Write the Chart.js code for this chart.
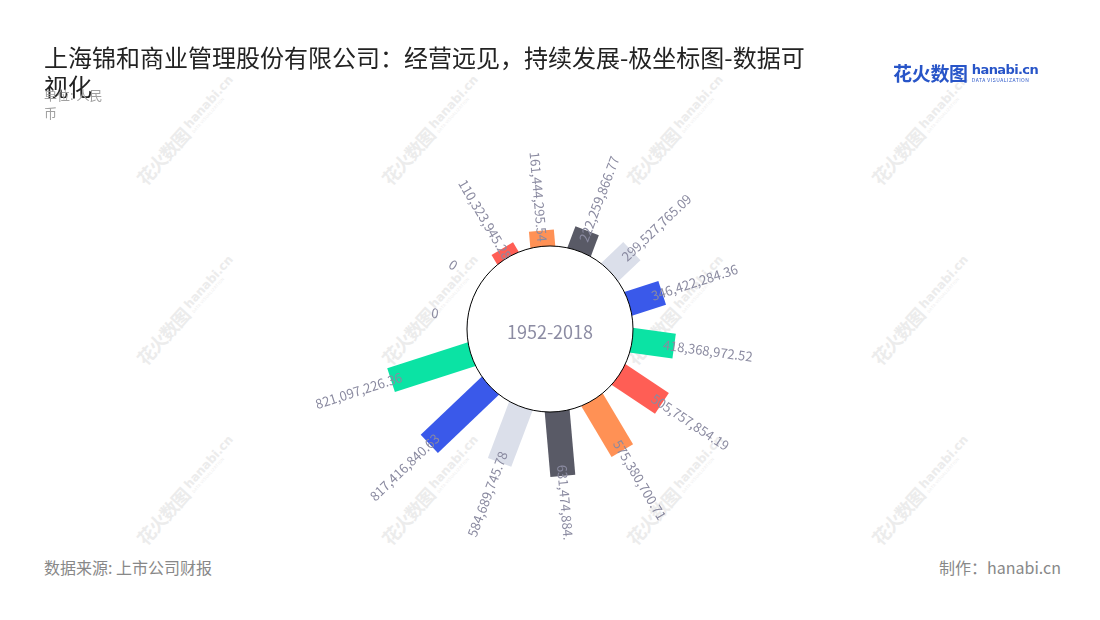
<!DOCTYPE html>
<html lang="zh">
<head>
<meta charset="utf-8">
<title>上海锦和商业管理股份有限公司：经营远见，持续发展-极坐标图-数据可视化</title>
<script src="https://cdn.jsdelivr.net/npm/chart.js@4.4.1/dist/chart.umd.min.js"></script>
<style>
  html, body { margin: 0; padding: 0; background: #fff; }
  body {
    width: 1100px; height: 620px; position: relative; overflow: hidden;
    font-family: "Noto Sans CJK SC", "Noto Sans", sans-serif;
  }
  #marks { position: absolute; left: 0; top: 0; width: 1100px; height: 620px; }
  .mark {
    position: absolute; white-space: nowrap; color: #ececec;
    transform: translate(-50%, -50%) rotate(-48deg);
    display: flex; align-items: center;
  }
  .mark .cn { font-size: 18px; font-weight: bold; letter-spacing: -1px; }
  .mark .en { margin-left: 4px; line-height: 1; }
  .mark .en b { display: block; font-family: "DejaVu Sans", sans-serif; font-size: 12px; }
  .mark .en i { display: block; font-style: normal; font-size: 4px; letter-spacing: 0.4px; }
  #chart { position: absolute; left: 0; top: 0; }
  .title {
    position: absolute; left: 44px; top: 42px; width: 772px;
    font-size: 24px; line-height: 29px; color: #222;
  }
  .unit {
    position: absolute; left: 44px; top: 86px; width: 64px;
    font-size: 13px; line-height: 18px; color: #a0a0a0;
  }
  .source { position: absolute; left: 44px; top: 557px; font-size: 16px; line-height: 20px; color: #888; }
  .maker { position: absolute; right: 39px; top: 557px; font-size: 16px; line-height: 20px; color: #888; }
  .logo { position: absolute; left: 893px; top: 59px; display: flex; align-items: center; color: #2855c8; }
  .logo .cn { font-size: 19px; font-weight: bold; letter-spacing: -0.3px; }
  .logo .en { margin-left: 4px; line-height: 1; }
  .logo .en b { display: block; font-family: "DejaVu Sans", sans-serif; font-size: 13px; letter-spacing: -0.6px; }
  .logo .en i { display: block; font-style: normal; font-size: 5px; letter-spacing: 0.5px; margin-top: 1px; }
</style>
</head>
<body>
<div id="marks"></div>
<canvas id="chart" width="1100" height="540"></canvas>
<div class="title">上海锦和商业管理股份有限公司：经营远见，持续发展-极坐标图-数据可视化</div>
<div class="unit">单位: 人民币</div>
<div class="logo"><span class="cn">花火数图</span><span class="en"><b>hanabi.cn</b><i>DATA VISUALIZATION</i></span></div>
<div class="source">数据来源: 上市公司财报</div>
<div class="maker">制作：hanabi.cn</div>
<script>
// 各期营业收入（元），顺时针排列
const categories = ['1', '2', '3', '4', '5', '6', '7', '8', '9', '10', '11', '12', '13', '14'];
const revenue = [
  0, 0, 110323945.28, 161444295.54, 222259866.77, 299527765.09, 346422284.36,
  418368972.52, 505757854.19, 575380700.71, 631474884.32, 584689745.78,
  817416840.63, 821097226.36
];
const palette = ['#3a59ea', '#0be3a4', '#ff5e55', '#ff9155', '#595a66', '#dbdfea'];
const centerText = '1952-2018';

const BAR_WIDTH = 25;
const LABEL_GAP = 34;

// 水印
const marks = document.getElementById('marks');
[155, 335, 515].forEach(y => {
  [163, 408, 653, 898].forEach(x => {
    const d = document.createElement('div');
    d.className = 'mark';
    d.style.left = (x + 23) + 'px';
    d.style.top = (y - 25) + 'px';
    d.innerHTML = '<span class="cn">花火数图</span><span class="en"><b>hanabi.cn</b><i>DATA VISUALIZATION</i></span>';
    marks.appendChild(d);
  });
});

const fmt = v => v.toLocaleString('en-US', { minimumFractionDigits: v ? 2 : 0, maximumFractionDigits: 2 });

const radialBars = {
  id: 'radialBars',
  beforeDatasetDraw(chart, args) {
    const ctx = chart.ctx;
    const base = chart.scales.r.getDistanceFromCenterForValue(0);
    args.meta.data.forEach(arc => {
      const p = arc.getProps(['x', 'y', 'startAngle', 'endAngle', 'outerRadius'], true);
      const a = (p.startAngle + p.endAngle) / 2;
      ctx.save();
      ctx.translate(p.x, p.y);
      ctx.rotate(a);
      ctx.fillStyle = arc.options.backgroundColor;
      ctx.fillRect(base - 4, -BAR_WIDTH / 2, p.outerRadius - base + 4, BAR_WIDTH);
      ctx.restore();
    });
    return false;
  },
  afterDatasetsDraw(chart) {
    const ctx = chart.ctx;
    const scale = chart.scales.r;
    const base = scale.getDistanceFromCenterForValue(0);
    const cx = scale.xCenter, cy = scale.yCenter;

    ctx.save();
    ctx.beginPath();
    ctx.arc(cx, cy, base + 1, 0, Math.PI * 2);
    ctx.fillStyle = '#fff';
    ctx.fill();
    ctx.lineWidth = 1;
    ctx.strokeStyle = '#000';
    ctx.stroke();

    ctx.fillStyle = '#8c8ca3';
    ctx.font = '18px "Noto Sans CJK SC"';
    ctx.textAlign = 'center';
    ctx.textBaseline = 'middle';
    ctx.fillText(centerText, cx, cy + 3);

    ctx.font = '13px "Noto Sans CJK SC"';
    ctx.fillStyle = '#8a8aa0';
    const meta = chart.getDatasetMeta(0);
    meta.data.forEach((arc, i) => {
      const p = arc.getProps(['startAngle', 'endAngle', 'outerRadius'], true);
      const a = (p.startAngle + p.endAngle) / 2;
      const r = p.outerRadius + LABEL_GAP;
      ctx.save();
      ctx.translate(cx + Math.cos(a) * r, cy + Math.sin(a) * r);
      ctx.rotate(Math.cos(a) >= 0 ? a : a + Math.PI);
      ctx.fillText(fmt(revenue[i]), 0, 0);
      ctx.restore();
    });
    ctx.restore();
  }
};

new Chart(document.getElementById('chart'), {
  type: 'polarArea',
  data: {
    labels: categories,
    datasets: [{
      label: '营业收入',
      data: revenue,
      backgroundColor: revenue.map((v, i) => palette[i % palette.length]),
      borderWidth: 0
    }]
  },
  options: {
    responsive: false,
    animation: false,
    layout: { padding: { top: 139, bottom: 21, left: 0, right: 0 } },
    plugins: { legend: { display: false }, tooltip: { enabled: false } },
    scales: {
      r: {
        min: -792300000,
        max: 1043400000,
        beginAtZero: false,
        startAngle: 265,
        ticks: { display: false },
        grid: { display: false },
        angleLines: { display: false },
        pointLabels: { display: false }
      }
    }
  },
  plugins: [radialBars]
});
</script>
</body>
</html>
